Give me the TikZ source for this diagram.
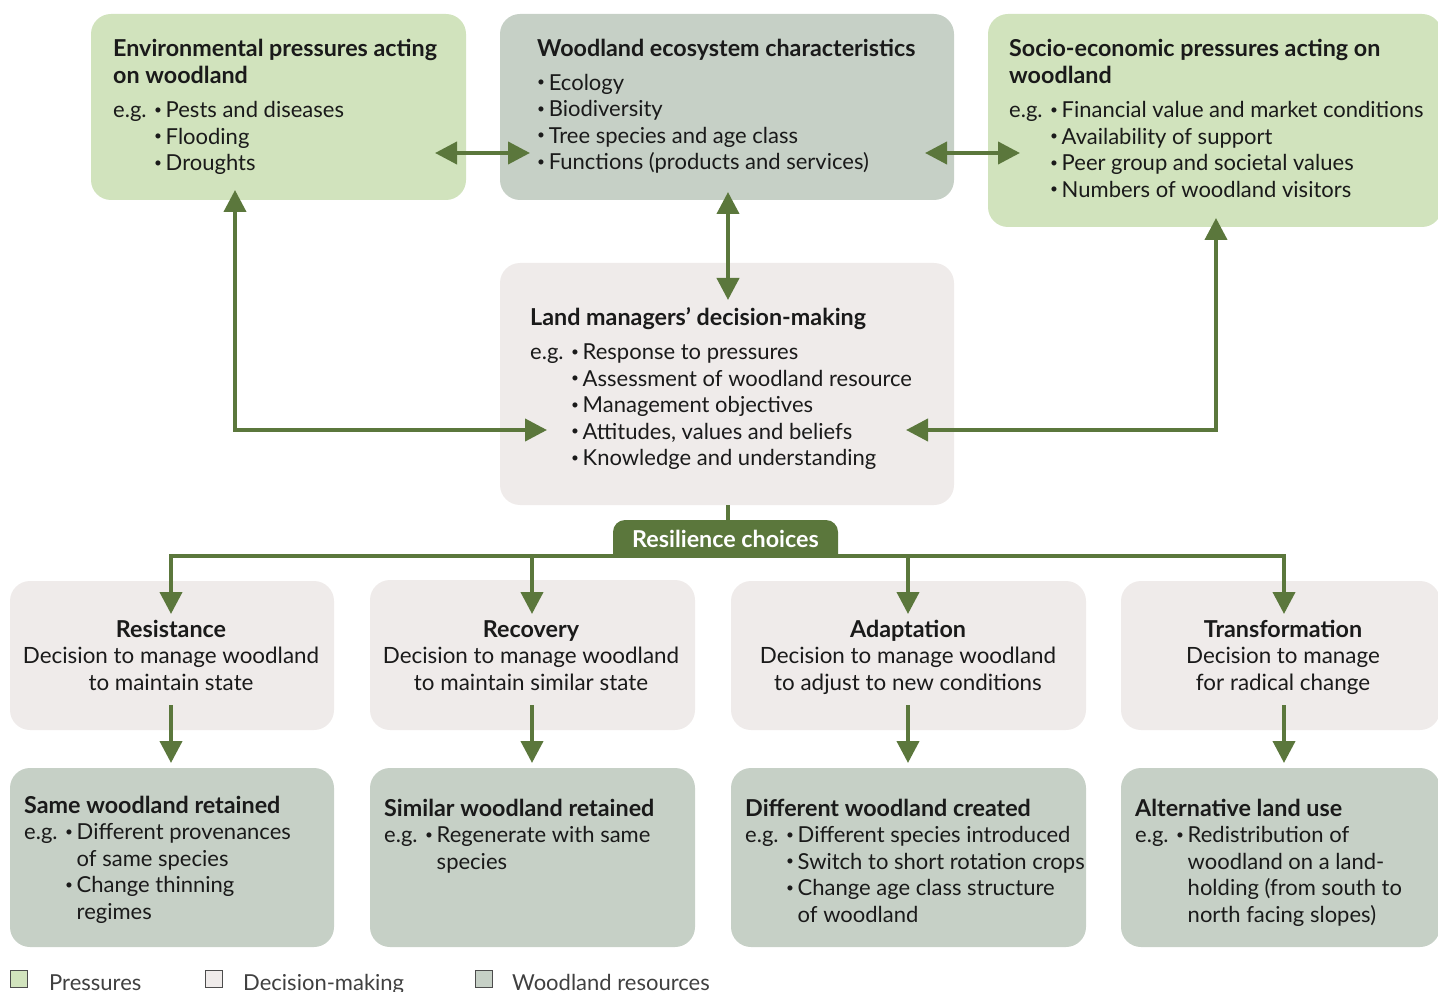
\documentclass[tikz,border=0pt]{standalone}
\usepackage{fontspec}
\setmainfont{Lato}
\usetikzlibrary{arrows.meta}
\definecolor{pres}{HTML}{D1E3BD}
\definecolor{wood}{HTML}{C6D0C6}
\definecolor{deci}{HTML}{EFEBEA}
\definecolor{arr}{HTML}{5B773C}
\definecolor{ink}{HTML}{1A1A1A}
\newcommand{\bl}{\raisebox{0.16em}{\scalebox{0.62}{\textbullet}}}
\newcommand{\ttl}{\fontsize{23.3}{26.6}\selectfont\bfseries}
\begin{document}
\begin{tikzpicture}[x=1pt,y=-1pt,
  box/.style={rounded corners=20pt, inner sep=0pt, draw=none},
  txt/.style={anchor=base west, inner sep=0pt, text=ink, font=\fontsize{22}{26.6}\selectfont},
  ctxt/.style={anchor=base, inner sep=0pt, text=ink, font=\fontsize{22.4}{26.6}\selectfont},
  link/.style={draw=arr, line width=4pt},
  tip/.style={-{Triangle[length=22pt,width=22pt]}},
  both/.style={{Triangle[length=22pt,width=22pt]}-{Triangle[length=22pt,width=22pt]}},
  leg/.style={draw=black!70, line width=0.8pt, minimum size=17pt, inner sep=0pt}
]
\useasboundingbox (0,0) rectangle (1438,992);

% ---------- boxes ----------
\node[box, fill=pres, minimum width=375pt, minimum height=186pt] (env) at (278.5,107) {};
\node[box, fill=wood, minimum width=454pt, minimum height=186pt] (eco) at (727,107) {};
\node[box, fill=pres, minimum width=454pt, minimum height=213pt] (soc) at (1215,120.5) {};
\node[box, fill=deci, minimum width=454pt, minimum height=242pt] (land) at (727,384) {};

\node[box, fill=deci, minimum width=324pt, minimum height=149pt] (resi) at (172,655.5) {};
\node[box, fill=deci, minimum width=325pt, minimum height=150pt] (reco) at (532.5,655) {};
\node[box, fill=deci, minimum width=355pt, minimum height=149pt] (adap) at (908.5,655.5) {};
\node[box, fill=deci, minimum width=319pt, minimum height=149pt] (tran) at (1280.5,655.5) {};

\node[box, fill=wood, minimum width=324pt, minimum height=179pt] (same) at (172,857.5) {};
\node[box, fill=wood, minimum width=325pt, minimum height=179pt] (simi) at (532.5,857.5) {};
\node[box, fill=wood, minimum width=355pt, minimum height=179pt] (diff) at (908.5,857.5) {};
\node[box, fill=wood, minimum width=319pt, minimum height=179pt] (alt) at (1280.5,857.5) {};

% ---------- texts ----------
\node[txt] (envt) at (113,57) {\begin{tabular}[t]{@{}l@{ }l@{\,}l@{}}
\multicolumn{3}{@{}l@{}}{\ttl Environmental pressures acting}\\
\multicolumn{3}{@{}l@{}}{\ttl on woodland}\\[7.5pt]
e.g. & \bl & Pests and diseases\\
 & \bl & Flooding\\
 & \bl & Droughts
\end{tabular}};

\node[txt] (ecot) at (537,57) {\begin{tabular}[t]{@{}l@{\,}l@{}}
\multicolumn{2}{@{}l@{}}{\ttl Woodland ecosystem characteristics}\\[6.5pt]
\bl & Ecology\\
\bl & Biodiversity\\
\bl & Tree species and age class\\
\bl & Functions (products and services)
\end{tabular}};

\node[txt] (soct) at (1009,57) {\begin{tabular}[t]{@{}l@{ }l@{\,}l@{}}
\multicolumn{3}{@{}l@{}}{\ttl Socio-economic pressures acting on}\\
\multicolumn{3}{@{}l@{}}{\ttl woodland}\\[7.5pt]
e.g. & \bl & Financial value and market conditions\\
 & \bl & Availability of support\\
 & \bl & Peer group and societal values\\
 & \bl & Numbers of woodland visitors
\end{tabular}};

\node[txt] (landt) at (530,326) {\begin{tabular}[t]{@{}l@{ }l@{\,}l@{}}
\multicolumn{3}{@{}l@{}}{\ttl Land managers' decision-making}\\[7pt]
e.g. & \bl & Response to pressures\\
 & \bl & Assessment of woodland resource\\
 & \bl & Management objectives\\
 & \bl & Attitudes, values and beliefs\\
 & \bl & Knowledge and understanding
\end{tabular}};

\node[ctxt] (resit) at (171,637) {\begin{tabular}[t]{@{}c@{}}
\ttl Resistance\\ Decision to manage woodland\\ to maintain state\end{tabular}};
\node[ctxt] (recot) at (531,637) {\begin{tabular}[t]{@{}c@{}}
\ttl Recovery\\ Decision to manage woodland\\ to maintain similar state\end{tabular}};
\node[ctxt] (adapt) at (908,637) {\begin{tabular}[t]{@{}c@{}}
\ttl Adaptation\\ Decision to manage woodland\\ to adjust to new conditions\end{tabular}};
\node[ctxt] (trant) at (1283,637) {\begin{tabular}[t]{@{}c@{}}
\ttl Transformation\\ Decision to manage\\ for radical change\end{tabular}};

\node[txt] (samet) at (24,813) {\begin{tabular}[t]{@{}l@{ }l@{\,}l@{}}
\multicolumn{3}{@{}l@{}}{\ttl Same woodland retained}\\
e.g. & \bl & Different provenances\\
 & & of same species\\
 & \bl & Change thinning\\
 & & regimes
\end{tabular}};

\node[txt] (simit) at (384,816) {\begin{tabular}[t]{@{}l@{ }l@{\,}l@{}}
\multicolumn{3}{@{}l@{}}{\ttl Similar woodland retained}\\
e.g. & \bl & Regenerate with same\\
 & & species
\end{tabular}};

\node[txt] (difft) at (745,816) {\begin{tabular}[t]{@{}l@{ }l@{\,}l@{}}
\multicolumn{3}{@{}l@{}}{\ttl Different woodland created}\\
e.g. & \bl & Different species introduced\\
 & \bl & Switch to short rotation crops\\
 & \bl & Change age class structure\\
 & & of woodland
\end{tabular}};

\node[txt] (altt) at (1135,816) {\begin{tabular}[t]{@{}l@{ }l@{\,}l@{}}
\multicolumn{3}{@{}l@{}}{\ttl Alternative land use}\\
e.g. & \bl & Redistribution of\\
 & & woodland on a land-\\
 & & holding (from south to\\
 & & north facing slopes)
\end{tabular}};

% ---------- resilience tab ----------
\fill[arr] (613,557) [rounded corners=12pt] -- (613,520) -- (838,520) [sharp corners] -- (838,557) -- cycle;
\node[inner sep=0pt, text=white, font=\ttl] (rc) at (725.5,539) {Resilience choices};

% ---------- connectors ----------
\coordinate (e1) at (435,153); \coordinate (e2) at (530,153);
\coordinate (s1) at (925,153); \coordinate (s2) at (1020,153);
\coordinate (v1) at (728,192); \coordinate (v2) at (728,300);
\coordinate (lu) at (235,190); \coordinate (lc) at (235,430); \coordinate (lt) at (547,430);
\coordinate (ru) at (1216,218); \coordinate (rcn) at (1216,430); \coordinate (rt) at (906,430);

\draw[link, both] (e1) -- (e2);
\draw[link, both] (s1) -- (s2);
\draw[link, both] (v1) -- (v2);
\draw[link, both] (lu) -- (lc) -- (lt);
\draw[link, both] (ru) -- (rcn) -- (rt);

\coordinate (tabtop) at (728,521);
\draw[link] (land.south -| tabtop) -- (tabtop);
\coordinate (hl) at (171,556); \coordinate (hr) at (1284,556);
\draw[link, line cap=rect] (hl) -- (hr);
\foreach \x/\n in {171/a,532/b,908/c,1284/d}{
  \coordinate (t\n) at (\x,556);
  \draw[link, tip] (t\n) -- (\x,614);
  \draw[link, tip] (\x,705) -- (\x,763);
}

% ---------- legend ----------
\node[leg, fill=pres, anchor=north west] (lg1) at (10,970) {};
\node[txt, anchor=base west, text=black!75] (lt1) at (49,990) {Pressures};
\node[leg, fill=deci, anchor=north west] (lg2) at (205,970) {};
\node[txt, anchor=base west, text=black!75] (lt2) at (243,990) {Decision-making};
\node[leg, fill=wood, anchor=north west] (lg3) at (475,970) {};
\node[txt, anchor=base west, text=black!75] (lt3) at (512,990) {Woodland resources};
\end{tikzpicture}
\end{document}
